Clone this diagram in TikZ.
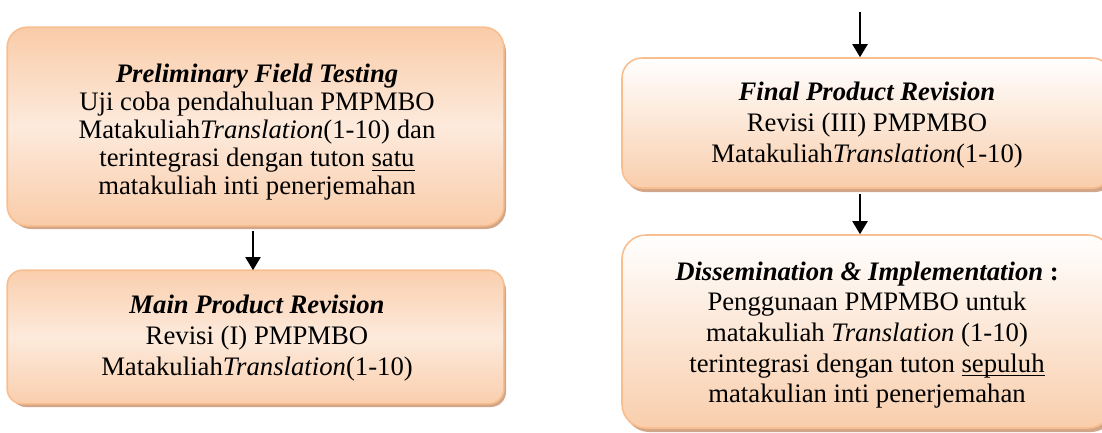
\documentclass[tikz,border=0pt]{standalone}
\usepackage{fontspec}
\setmainfont{Liberation Serif}
\usetikzlibrary{arrows.meta,shadows}

\definecolor{edgeorange}{RGB}{249,190,143}
\definecolor{deeppeach}{RGB}{247,186,138}
\definecolor{palepeach}{RGB}{253,234,220}
\definecolor{softpeach}{RGB}{249,206,172}
\definecolor{shadowtan}{RGB}{210,166,136}

% pale band along the middle, deeper peach on both sides
\pgfdeclareverticalshading{peachband}{100bp}{%
  color(0bp)=(deeppeach); color(37bp)=(deeppeach);
  color(50bp)=(palepeach);
  color(63bp)=(deeppeach); color(100bp)=(deeppeach)}

% underline drawn just below the baseline
\newsavebox{\ulinebox}
\newcommand{\undl}[1]{\sbox{\ulinebox}{#1}\rlap{\rule[-4pt]{\wd\ulinebox}{1.3pt}}\usebox{\ulinebox}}

\tikzset{
  panel/.style={draw=edgeorange, line width=1.6pt,
    general shadow={fill=shadowtan, shadow xshift=3pt, shadow yshift=-4pt}},
  peachpanel/.style={panel, fill=deeppeach},
  paleband/.style={shading=peachband},
  rim/.style={draw=edgeorange, line width=1.6pt},
  vertfill/.style={top color=white, bottom color=softpeach},
  label/.style={align=center, inner sep=0pt,
    font=\fontsize{26.7}{30.7}\selectfont},
  tightlabel/.style={label, font=\fontsize{26.7}{28}\selectfont},
  flow/.style={-{Triangle[width=15pt,length=13pt]}, line width=2pt},
}

\begin{document}
\begin{tikzpicture}[x=1pt,y=-1pt]
\useasboundingbox (0,0) rectangle (1102,432);

% left column: peach boxes with a pale diagonal band
\node[peachpanel, rounded corners=20pt, minimum width=495pt,
  minimum height=197pt] (prelim) at (255.5,126.5) {};
\begin{scope}
  \clip[rounded corners=20pt] (prelim.north west) rectangle (prelim.south east);
  \shade[paleband, shift={(prelim.center)}, rotate=-21.7]
    (-320,-200) rectangle (320,200);
\end{scope}
\draw[rim, rounded corners=20pt] (prelim.north west) rectangle (prelim.south east);
\node[tightlabel] (prelimtext) at ([xshift=1.5pt,yshift=-6pt]prelim.center)
  {\textbf{\textit{Preliminary Field Testing}}\\
   Uji coba pendahuluan PMPMBO\\
   Matakuliah\textit{Translation}(1-10) dan\\
   terintegrasi dengan tuton \undl{satu}\\
   matakuliah inti penerjemahan};

\node[peachpanel, rounded corners=15pt, minimum width=495pt,
  minimum height=132pt] (mainrev) at (255.5,337) {};
\begin{scope}
  \clip[rounded corners=15pt] (mainrev.north west) rectangle (mainrev.south east);
  \shade[paleband, shift={(mainrev.center)}, rotate=-14.9]
    (-310,-150) rectangle (310,150);
\end{scope}
\draw[rim, rounded corners=15pt] (mainrev.north west) rectangle (mainrev.south east);
\node[label] (mainrevtext) at ([xshift=1.5pt,yshift=-1pt]mainrev.center)
  {\textbf{\textit{Main Product Revision}}\\
   Revisi (I) PMPMBO\\
   Matakuliah\textit{Translation}(1-10)};

% right column: white-to-peach boxes
\node[panel, vertfill, rounded corners=20pt, minimum width=490pt,
  minimum height=130pt] (finalrev) at (867,123) {};
\node[label] (finalrevtext) at ([yshift=-2pt]finalrev.center)
  {\textbf{\textit{Final Product Revision}}\\
   Revisi (III) PMPMBO\\
   Matakuliah\textit{Translation}(1-10)};

\node[panel, vertfill, rounded corners=24pt, minimum width=490pt,
  minimum height=193pt] (dissem) at (867,331.5) {};
\node[label] (dissemtext) at ([yshift=-3.5pt]dissem.center)
  {\textbf{\textit{Dissemination \& Implementation} :}\\
   Penggunaan PMPMBO untuk\\
   matakuliah \textit{Translation} (1-10)\\
   terintegrasi dengan tuton \undl{sepuluh}\\
   matakulian inti penerjemahan};

% connectors
\coordinate (incoming) at (860,12);
\draw[flow] ([xshift=-2.5pt,yshift=-5pt]prelim.south) -- ([xshift=-2.5pt]mainrev.north);
\draw[flow] (incoming) -- (incoming |- finalrev.north);
\draw[flow] ([xshift=-7pt,yshift=-5pt]finalrev.south) -- ([xshift=-7pt]dissem.north);
\end{tikzpicture}
\end{document}
